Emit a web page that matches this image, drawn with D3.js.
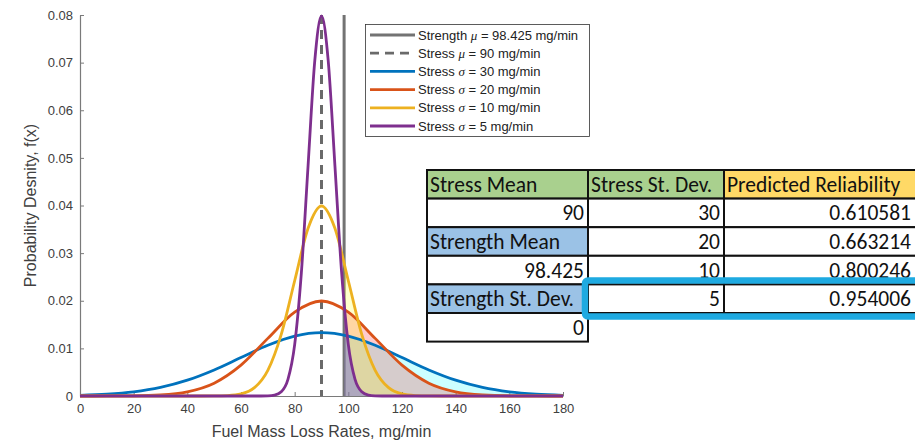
<!DOCTYPE html>
<html>
<head>
<meta charset="utf-8">
<script src="https://cdn.jsdelivr.net/npm/d3@7"></script>
<style>
  body { margin: 0; background: #fff; }
  svg { display: block; font-family: "Liberation Sans", Arial, sans-serif; }
</style>
</head>
<body>
<svg id="chart" width="915" height="441"></svg>
<script>
// 数据：应力/强度分布 (读自图片)
const strengthMean = 98.425;
const stressMean = 90;
const xTicks = [0, 20, 40, 60, 80, 100, 120, 140, 160, 180];
const yTicks = [0, 0.01, 0.02, 0.03, 0.04, 0.05, 0.06, 0.07, 0.08];

const xSigma30 = [0, 10, 20, 30, 40, 50, 60, 70, 80, 90, 100, 110, 120, 130, 140, 150, 160, 170, 180];
const ySigma30 = [0.00015, 0.00038, 0.00087, 0.0018, 0.00332, 0.00547, 0.00807, 0.01065, 0.01258, 0.0133,
                  0.01258, 0.01065, 0.00807, 0.00547, 0.00332, 0.0018, 0.00087, 0.00038, 0.00015];

const xSigma20 = [0, 10, 20, 30, 40, 50, 60, 70, 80, 90, 100, 110, 120, 130, 140, 150, 160, 170, 180];
const ySigma20 = [0, 0.00001, 0.00004, 0.00022, 0.00088, 0.0027, 0.00648, 0.0121, 0.0176, 0.01995,
                  0.0176, 0.0121, 0.00648, 0.0027, 0.00088, 0.00022, 0.00004, 0.00001, 0];

const xSigma10 = [0, 40, 45, 50, 55, 60, 65, 70, 75, 80, 85, 90, 95, 100, 105, 110, 115, 120, 125, 130, 135, 140, 180];
const ySigma10 = [0, 0, 0, 0.00001, 0.00009, 0.00044, 0.00175, 0.0054, 0.01295, 0.0242, 0.03521, 0.03989,
                  0.03521, 0.0242, 0.01295, 0.0054, 0.00175, 0.00044, 0.00009, 0.00001, 0, 0, 0];

const xSigma5 = [0, 65, 67.5, 70, 72.5, 75, 77.5, 80, 82.5, 85, 87.5, 90, 92.5, 95, 97.5, 100, 102.5, 105, 107.5, 110, 112.5, 115, 180];
const ySigma5 = [0, 0, 0, 0.00003, 0.00018, 0.00089, 0.00351, 0.0108, 0.0259, 0.04839, 0.07041, 0.07979,
                 0.07041, 0.04839, 0.0259, 0.0108, 0.00351, 0.00089, 0.00018, 0.00003, 0, 0, 0];

// 表格数据
const stressSigmas = [30, 20, 10, 5];
const reliabilities = ["0.610581", "0.663214", "0.800246", "0.954006"];
const strengthSigma = 0;

const series = [
    { sigma: 30, xs: xSigma30, ys: ySigma30, color: '#0072BD', fill: '#00ffff', fillOpacity: 0.2 },
    { sigma: 20, xs: xSigma20, ys: ySigma20, color: '#D95319', fill: '#ff0000', fillOpacity: 0.2 },
    { sigma: 10, xs: xSigma10, ys: ySigma10, color: '#EDB120', fill: '#ffff00', fillOpacity: 0.2 },
    { sigma: 5,  xs: xSigma5,  ys: ySigma5,  color: '#7E2F8E', fill: '#4040ff', fillOpacity: 0.3 }
];

const svg = d3.select('#chart');

const x = d3.scaleLinear().domain([0, 180]).range([80, 563]);
const y = d3.scaleLinear().domain([0, 0.08]).range([396, 15]);

// 裁剪：只填充强度均值右侧
svg.append('defs').append('clipPath')
    .attr('id', 'rightOfStrength')
    .append('rect')
    .attr('x', x(strengthMean))
    .attr('y', y(0.08))
    .attr('width', x(180) - x(strengthMean))
    .attr('height', y(0) - y(0.08) + 2);

// 坐标轴
const xAxis = svg.append('g')
    .attr('transform', `translate(0,${y(0)})`)
    .call(d3.axisBottom(x).tickValues(xTicks).tickSizeInner(-4).tickSizeOuter(0).tickPadding(8));
const yAxis = svg.append('g')
    .attr('transform', `translate(${x(0)},0)`)
    .call(d3.axisLeft(y).tickValues(yTicks).tickSizeInner(-4).tickSizeOuter(0).tickPadding(7)
        .tickFormat(d => d === 0 ? '0' : d.toFixed(2)));

[xAxis, yAxis].forEach(ax => {
    ax.select('.domain').attr('stroke', '#7a7a7a').attr('stroke-width', 1.2);
    ax.selectAll('.tick line').attr('stroke', '#7a7a7a');
    ax.selectAll('.tick text').attr('fill', '#404040').attr('font-size', '13px')
        .attr('font-family', '"Liberation Sans", Arial, sans-serif');
});

// 轴标题
svg.append('text')
    .attr('x', (x(0) + x(180)) / 2)
    .attr('y', 437)
    .attr('text-anchor', 'middle')
    .attr('font-size', '16px')
    .attr('fill', '#404040')
    .text('Fuel Mass Loss Rates, mg/min');

svg.append('text')
    .attr('transform', `translate(36,${(y(0) + y(0.08)) / 2}) rotate(-90)`)
    .attr('text-anchor', 'middle')
    .attr('font-size', '16px')
    .attr('fill', '#404040')
    .text('Probability Desnity, f(x)');

// 强度均值竖线
svg.append('line')
    .attr('x1', x(strengthMean)).attr('x2', x(strengthMean))
    .attr('y1', y(0.08)).attr('y2', y(0))
    .attr('stroke', '#737373')
    .attr('stroke-width', 3);

const line = d3.line().x(d => x(d[0])).y(d => y(d[1])).curve(d3.curveMonotoneX);
const area = d3.area().x(d => x(d[0])).y0(y(0)).y1(d => y(d[1])).curve(d3.curveMonotoneX);

// 右侧失效区域填充
const fills = svg.append('g').attr('clip-path', 'url(#rightOfStrength)');
series.forEach(s => {
    const pts = s.xs.map((v, i) => [v, s.ys[i]]);
    fills.append('path')
        .attr('d', area(pts))
        .attr('fill', s.fill)
        .attr('fill-opacity', s.fillOpacity);
});

// 应力均值虚线
svg.append('line')
    .attr('x1', x(stressMean)).attr('x2', x(stressMean))
    .attr('y1', y(0.08)).attr('y2', y(0))
    .attr('stroke', '#6a6a6a')
    .attr('stroke-width', 3)
    .attr('stroke-dasharray', '9,6');

// 应力分布曲线
series.forEach(s => {
    const pts = s.xs.map((v, i) => [v, s.ys[i]]);
    svg.append('path')
        .attr('d', line(pts))
        .attr('fill', 'none')
        .attr('stroke', s.color)
        .attr('stroke-width', 2.8);
});

// 图例
const legendItems = [
    { pre: 'Strength ', sym: 'μ', post: ` = ${strengthMean} mg/min`, color: '#737373', dash: null },
    { pre: 'Stress ', sym: 'μ', post: ` = ${stressMean} mg/min`, color: '#6a6a6a', dash: '9,6' },
    ...series.map(s => ({ pre: 'Stress ', sym: 'σ', post: ` = ${s.sigma} mg/min`, color: s.color, dash: null }))
];

const legend = svg.append('g');
legend.append('rect')
    .attr('x', 365.5).attr('y', 24.5)
    .attr('width', 224).attr('height', 112)
    .attr('fill', '#fff')
    .attr('stroke', '#333')
    .attr('stroke-width', 0.8);

legendItems.forEach((item, i) => {
    const ly = 35 + i * 18.2;
    legend.append('line')
        .attr('x1', 370).attr('x2', 415)
        .attr('y1', ly).attr('y2', ly)
        .attr('stroke', item.color)
        .attr('stroke-width', 2.8)
        .attr('stroke-dasharray', item.dash);
    const t = legend.append('text')
        .attr('x', 418).attr('y', ly + 4.5)
        .attr('font-size', '13px')
        .attr('fill', '#222');
    t.append('tspan').text(item.pre);
    t.append('tspan').attr('font-style', 'italic').attr('font-family', '"Liberation Serif", serif').text(item.sym);
    t.append('tspan').text(item.post);
});

// Excel 表格
const colX = [427, 588, 724, 930];
const textRight = [584, 720, 911];
const rowY0 = 170, rowH = 28.6;
const green = '#a9d08e', blue = '#9bc2e6', yellow = '#ffd966';

const cells = [
    { col: 0, row: 0, text: 'Stress Mean', bg: green, header: true },
    { col: 0, row: 1, text: String(stressMean), bg: '#fff' },
    { col: 0, row: 2, text: 'Strength Mean', bg: blue, header: true },
    { col: 0, row: 3, text: String(strengthMean), bg: '#fff' },
    { col: 0, row: 4, text: 'Strength St. Dev.', bg: blue, header: true },
    { col: 0, row: 5, text: String(strengthSigma), bg: '#fff' },
    { col: 1, row: 0, text: 'Stress St. Dev.', bg: green, header: true },
    { col: 2, row: 0, text: 'Predicted Reliability', bg: yellow, header: true },
    ...stressSigmas.map((s, i) => ({ col: 1, row: i + 1, text: String(s), bg: '#fff' })),
    ...reliabilities.map((r, i) => ({ col: 2, row: i + 1, text: r, bg: '#fff' }))
];

const table = svg.append('g').attr('font-family', 'Carlito, Calibri, "Open Sans", sans-serif');
cells.forEach(c => {
    const x0 = colX[c.col], x1 = colX[c.col + 1];
    const y0 = rowY0 + c.row * rowH;
    table.append('rect')
        .attr('x', x0).attr('y', y0)
        .attr('width', x1 - x0).attr('height', rowH)
        .attr('fill', c.bg)
        .attr('stroke', '#111')
        .attr('stroke-width', 2);
    table.append('text')
        .attr('x', c.header ? x0 + 3 : textRight[c.col])
        .attr('y', y0 + rowH / 2 + 7.5)
        .attr('text-anchor', c.header ? 'start' : 'end')
        .attr('font-size', '21.5px')
        .attr('fill', '#111')
        .text(c.text);
});

// 高亮框
svg.append('rect')
    .attr('x', 585).attr('y', 280.5)
    .attr('width', 360).attr('height', 36)
    .attr('rx', 3)
    .attr('fill', 'none')
    .attr('stroke', '#1eaae1')
    .attr('stroke-width', 6.5);
</script>
</body>
</html>
